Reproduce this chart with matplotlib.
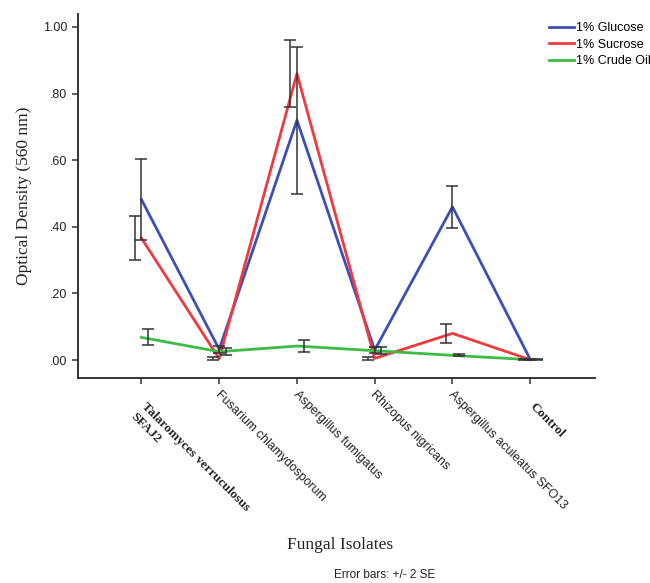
import numpy as np
import matplotlib.pyplot as plt

isolates = ["Talaromyces verruculosus\nSFAJ2", "Fusarium chlamydosporum",
            "Aspergillus fumigatus", "Rhizopus nigricans",
            "Aspergillus aculeatus SFO13", "Control"]

glucose = [0.482, 0.032, 0.720, 0.030, 0.460, 0.002]
glucose_err = [0.122, 0.010, 0.220, 0.010, 0.063, 0.002]
sucrose = [0.366, 0.004, 0.860, 0.005, 0.080, 0.001]
sucrose_err = [0.066, 0.004, 0.100, 0.004, 0.029, 0.002]
crude_oil = [0.068, 0.025, 0.042, 0.028, 0.014, 0.001]
crude_oil_err = [0.024, 0.010, 0.017, 0.010, 0.003, 0.002]

y_ticks = [0.0, 0.2, 0.4, 0.6, 0.8, 1.0]
y_tick_labels = [".00", ".20", ".40", ".60", ".80", "1.00"]

series = [
    ("1% Glucose", glucose, glucose_err, "#3c4fb8", 0.0),
    ("1% Sucrose", sucrose, sucrose_err, "#f03a3f", -0.085),
    ("1% Crude Oil", crude_oil, crude_oil_err, "#3dbb45", 0.085),
]

fig = plt.figure(figsize=(6.5, 5.83), dpi=100)
ax = fig.add_axes([0.12, 0.3516, 0.795, 0.6244])

x = np.arange(len(isolates))
handles = []
for label, vals, errs, color, off in series:
    h, = ax.plot(x, vals, color=color, lw=2, label=label, zorder=3)
    handles.append(h)
    ax.errorbar(x + off, vals, yerr=errs, fmt="none", ecolor="#333333",
                elinewidth=1.1, capsize=4.5, capthick=1.1, zorder=4)

ax.set_xlim(-0.816, 5.83)
ax.set_ylim(-0.054, 1.039)
ax.set_yticks(y_ticks)
ax.set_yticklabels(y_tick_labels, fontsize=9, family="Liberation Sans", color="#222222")
ax.set_xticks(x)
ax.set_xticklabels([])
for side in ["top", "right"]:
    ax.spines[side].set_visible(False)
for side in ["left", "bottom"]:
    ax.spines[side].set_linewidth(1.4)
    ax.spines[side].set_color("#333333")
ax.tick_params(axis="both", direction="out", length=4, width=1.1, color="#333333")

# rotated category labels (bold serif for the first and the control)
for i, name in enumerate(isolates):
    if i == 0 or name == "Control":
        kw = dict(family="Liberation Serif", fontweight="bold", fontsize=9.5)
        off = (4, -16)
    else:
        kw = dict(family="Liberation Sans", fontsize=9)
        off = (1.5, -7.5)
    ax.annotate(name, xy=(i, 0), xycoords=("data", "axes fraction"),
                xytext=off, textcoords="offset points",
                rotation=-45, rotation_mode="anchor", ha="left", va="top",
                color="#222222", linespacing=1.3, **kw)

ax.set_ylabel("Optical Density (560 nm)", family="Liberation Serif", fontsize=12.5,
              color="#222222", labelpad=8)
fig.text(0.523, 0.065, "Fungal Isolates", family="Liberation Serif", fontsize=12.5,
         ha="center", va="center", color="#222222")
fig.text(0.592, 0.014, "Error bars: +/- 2 SE", family="Liberation Sans", fontsize=8.5,
         ha="center", va="center", color="#222222")

fig.legend(handles=handles, loc="upper left", bbox_to_anchor=(0.845, 0.962),
           frameon=False, prop={"family": "Liberation Sans", "size": 9},
           handlelength=2.0, handletextpad=0.15, labelspacing=0.35,
           borderaxespad=0, borderpad=0)

fig.savefig("out.png", dpi=100)
